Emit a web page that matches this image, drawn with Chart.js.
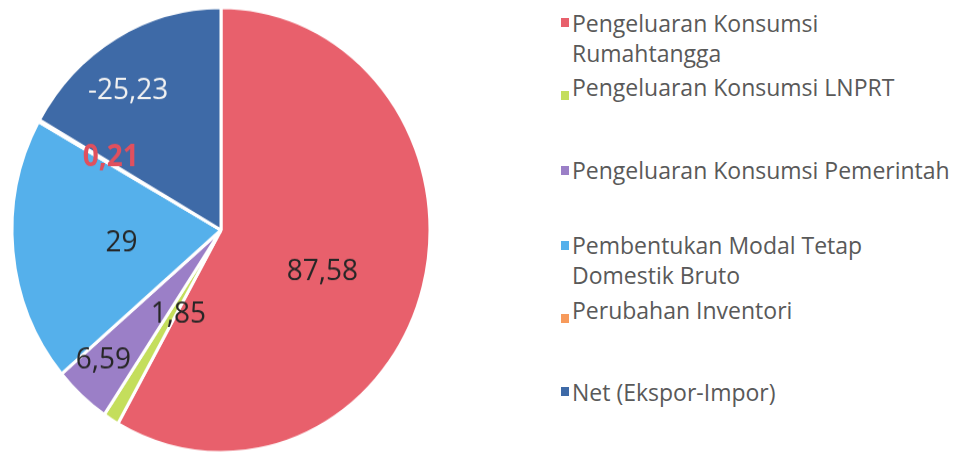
<!DOCTYPE html>
<html>
<head>
<meta charset="utf-8">
<script src="https://cdn.jsdelivr.net/npm/chart.js@4.4.0/dist/chart.umd.min.js"></script>
<style>
  html, body { margin: 0; padding: 0; background: #fff; }
  #wrap { position: relative; width: 958px; height: 455px; overflow: hidden; }
  #pie { position: absolute; left: 0; top: 0; width: 442px; height: 432px; transform-origin: 0 0; transform: scaleY(1.065); }
  #legend { position: absolute; left: 561px; top: 0; width: 395px; font-family: "Open Sans", sans-serif; font-size: 23px; line-height: 30px; color: #595959; }
  .item { position: absolute; left: 0; padding-left: 11px; }
  .box { position: absolute; left: 0; width: 8px; height: 9px; }
</style>
</head>
<body>
<div id="wrap">
  <div id="pie"><canvas id="pieChart"></canvas></div>
  <div id="legend"></div>
</div>
<script>
// data
const categories = [
  "Pengeluaran Konsumsi Rumahtangga",
  "Pengeluaran Konsumsi LNPRT",
  "Pengeluaran Konsumsi Pemerintah",
  "Pembentukan Modal Tetap Domestik Bruto",
  "Perubahan Inventori",
  "Net (Ekspor-Impor)"
];
const values = [87.58, 1.85, 6.59, 29, 0.21, -25.23];
const valueLabels = ["87,58", "1,85", "6,59", "29", "0,21", "-25,23"];

// styles
const colors = ["#E8606C", "#C4DE5C", "#9B7FC7", "#55B0EB", "#F79A5B", "#3E6AA7"];
const labelColors = ["#262626", "#262626", "#262626", "#262626", "#E0505E", "#F2F2F2"];
const labelWeights = ["normal", "normal", "normal", "normal", "bold", "normal"];
const labelRadius = [0.52, 0.43, 0.81, 0.48, 0.62, 0.77];
const labelShift = [6.3, -3.4, 2.2, -1.4, 2.3, -5.1]; // degrees, labels moved by hand in the original
const legendTop = [8, 72, 155, 230, 295, 377];
const legendWidth = [330, 380, 380, 330, 380, 380];
const boxTop = [9.5, 18.5, 10.5, 10.5, 18.5, 9.5];

const sliceLabels = {
  id: "sliceLabels",
  afterDatasetsDraw(chart) {
    const ctx = chart.ctx;
    const meta = chart.getDatasetMeta(0);
    meta.data.forEach((arc, i) => {
      const p = arc.getProps(["x", "y", "startAngle", "endAngle", "outerRadius"], true);
      const mid = (p.startAngle + p.endAngle) / 2 + labelShift[i] * Math.PI / 180;
      const r = p.outerRadius * labelRadius[i];
      ctx.save();
      ctx.font = labelWeights[i] + " 28px 'Open Sans', sans-serif";
      ctx.fillStyle = labelColors[i];
      ctx.textAlign = "center";
      ctx.textBaseline = "middle";
      ctx.fillText(valueLabels[i], p.x + Math.cos(mid) * r, p.y + Math.sin(mid) * r);
      ctx.restore();
    });
  }
};

new Chart(document.getElementById("pieChart"), {
  type: "pie",
  data: {
    labels: categories,
    datasets: [{
      data: values,
      backgroundColor: colors,
      borderColor: "#ffffff",
      borderWidth: 3,
      hoverOffset: 0,
      radius: 209
    }]
  },
  options: {
    responsive: true,
    maintainAspectRatio: false,
    animation: false,
    events: [],
    plugins: {
      legend: { display: false },
      tooltip: { enabled: false }
    }
  },
  plugins: [sliceLabels]
});

const legend = document.getElementById("legend");
categories.forEach((name, i) => {
  const item = document.createElement("div");
  item.className = "item";
  item.style.top = legendTop[i] + "px";
  item.style.width = legendWidth[i] + "px";
  const box = document.createElement("span");
  box.className = "box";
  box.style.background = colors[i];
  box.style.top = boxTop[i] + "px";
  item.appendChild(box);
  item.appendChild(document.createTextNode(name));
  legend.appendChild(item);
});
</script>
</body>
</html>
